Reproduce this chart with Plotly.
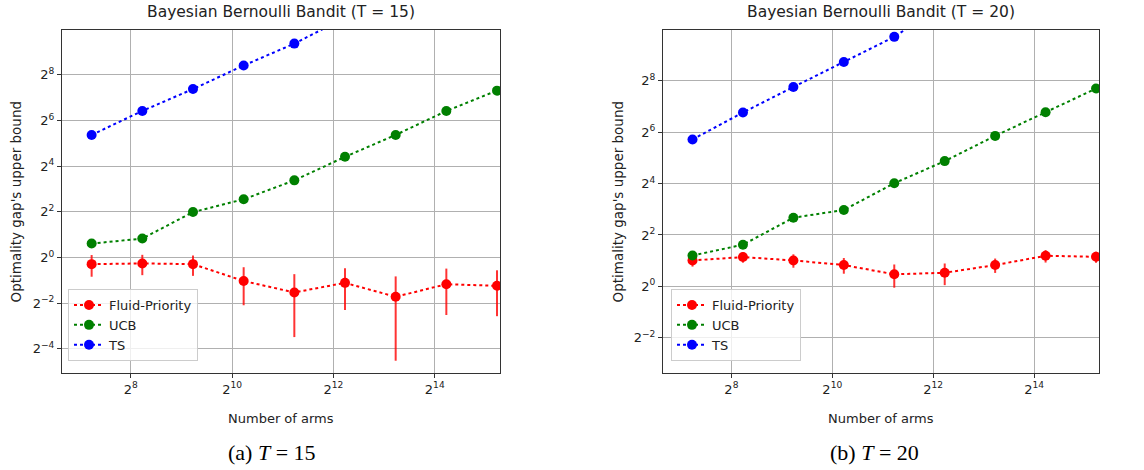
import numpy as np
import plotly.graph_objects as go

# ---- data ----
arms = [150, 300, 600, 1200, 2400, 4800, 9600, 19200, 38400]

# T = 15 (values given as log2 exponents)
fluid15_log2 = [-0.29, -0.26, -0.29, -1.03, -1.53, -1.11, -1.72, -1.17, -1.24]
fluid15_err = [0.26, 0.25, 0.245, 0.255, 0.257, 0.26, 0.26, 0.27, 0.255]
ucb15_log2 = [0.61, 0.83, 1.99, 2.55, 3.38, 4.41, 5.37, 6.42, 7.31]
ts15_log2 = [5.37, 6.42, 7.38, 8.41, 9.37, 10.5, 11.5, 12.5, 13.5]

# T = 20
fluid20_log2 = [1.01, 1.14, 1.01, 0.83, 0.47, 0.53, 0.83, 1.19, 1.15]
fluid20_err = [0.31, 0.31, 0.36, 0.37, 0.42, 0.41, 0.34, 0.38, 0.33]
ucb20_log2 = [1.20, 1.62, 2.67, 2.97, 4.01, 4.87, 5.85, 6.77, 7.69]
ts20_log2 = [5.71, 6.76, 7.75, 8.72, 9.70, 11.0, 12.0, 13.0, 14.0]

x_tick_exp = [8, 10, 12, 14]
y_tick_exp15 = [-4, -2, 0, 2, 4, 6, 8]
y_tick_exp20 = [-2, 0, 2, 4, 6, 8]

titles = ["Bayesian Bernoulli Bandit (T = 15)", "Bayesian Bernoulli Bandit (T = 20)"]
captions = ["(a) <i>T</i> = 15", "(b) <i>T</i> = 20"]
series_names = ["Fluid-Priority", "UCB", "TS"]
colors = ["red", "green", "blue"]

xlim = (100, 40000)
ylims = [(0.03, 1000), (0.097, 1000)]

W, H = 1144, 470
# plot-area pixel boxes [x0, x1, y_top, y_bottom]
boxes = [(62, 500, 30, 373), (663, 1099, 30, 373)]

FONT = "DejaVu Sans"

fig = go.Figure()

panels = [
    (fluid15_log2, fluid15_err, ucb15_log2, ts15_log2, y_tick_exp15),
    (fluid20_log2, fluid20_err, ucb20_log2, ts20_log2, y_tick_exp20),
]

def sup(e):
    s = str(e).replace("-", "\u2212")
    return f"2<sup>{s}</sup>"

for i, (fl, fe, uc, ts, ytx) in enumerate(panels):
    xa = "x" if i == 0 else "x2"
    ya = "y" if i == 0 else "y2"
    lg = "legend" if i == 0 else "legend2"
    ys = [2.0 ** np.array(fl), 2.0 ** np.array(uc), 2.0 ** np.array(ts)]
    errs = [fe, None, None]
    for k in range(3):
        tr = dict(
            x=arms, y=ys[k], name=series_names[k], mode="lines+markers",
            line=dict(color=colors[k], dash="dot", width=2),
            marker=dict(color=colors[k], size=10),
            xaxis=xa, yaxis=ya, legend=lg,
        )
        if errs[k] is not None:
            tr["error_y"] = dict(type="data", array=errs[k], symmetric=True,
                                 color="rgba(255,0,0,0.8)", thickness=2, width=0)
        fig.add_trace(go.Scatter(**tr))

    x0, x1, yt, yb = boxes[i]
    axis_common = dict(
        type="log", showgrid=True, gridcolor="#b0b0b0", gridwidth=0.8,
        showline=True, mirror=True, linecolor="#333", linewidth=1,
        ticks="outside", ticklen=4, tickcolor="#333", automargin=False,
        tickfont=dict(family=FONT, size=13, color="#222"), zeroline=False,
    )
    xkey = "xaxis" if i == 0 else "xaxis2"
    ykey = "yaxis" if i == 0 else "yaxis2"
    fig.update_layout(**{
        xkey: dict(axis_common, domain=[x0 / W, x1 / W],
                   range=[np.log10(xlim[0]), np.log10(xlim[1])],
                   tickvals=[2.0 ** e for e in x_tick_exp],
                   ticktext=[sup(e) for e in x_tick_exp],
                   anchor=ya),
        ykey: dict(axis_common, domain=[1 - yb / H, 1 - yt / H],
                   range=[np.log10(ylims[i][0]), np.log10(ylims[i][1])],
                   tickvals=[2.0 ** e for e in ytx],
                   ticktext=[sup(e) for e in ytx],
                   anchor=xa),
    })
    cx = (x0 + x1) / 2
    ann = dict(xref="paper", yref="paper", showarrow=False, xanchor="center", yanchor="middle")
    fig.add_annotation(text=titles[i], x=cx / W, y=1 - 12 / H,
                       font=dict(family=FONT, size=15.5, color="#222"), **ann)
    fig.add_annotation(text="Number of arms", x=cx / W, y=1 - 418 / H,
                       font=dict(family=FONT, size=13, color="#222"), **ann)
    ylx = 15 if i == 0 else 617
    fig.add_annotation(text="Optimality gap's upper bound", x=ylx / W, y=1 - ((yt + yb) / 2) / H,
                       textangle=-90, font=dict(family=FONT, size=13.5, color="#222"), **ann)
    capx = 272 if i == 0 else 874
    fig.add_annotation(text=captions[i], x=capx / W, y=1 - 452 / H,
                       font=dict(family="Liberation Serif", size=22, color="black"), **ann)

leg_common = dict(
    xanchor="left", yanchor="top", bgcolor="rgba(255,255,255,0.8)",
    bordercolor="#cccccc", borderwidth=1, font=dict(family=FONT, size=13, color="#222"),
    itemclick=False, tracegroupgap=0,
)
fig.update_layout(
    width=W, height=H, margin=dict(l=0, r=0, t=0, b=0, autoexpand=False),
    paper_bgcolor="white", plot_bgcolor="white",
    legend=dict(leg_common, x=68 / W, y=1 - 289 / H),
    legend2=dict(leg_common, x=671 / W, y=1 - 289 / H),
    showlegend=True,
)

fig.write_html("out.html", config={"displayModeBar": False},
               post_script="document.body.style.margin='0';document.body.style.overflow='hidden';")
